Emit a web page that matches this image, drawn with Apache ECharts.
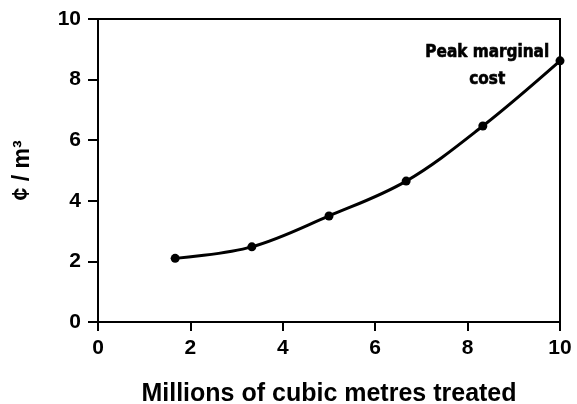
<!DOCTYPE html>
<html>
<head>
<meta charset="utf-8">
<script src="https://cdn.jsdelivr.net/npm/echarts@6/dist/echarts.min.js"></script>
<style>html,body{margin:0;padding:0;background:#fff}#c{width:577px;height:404px}</style>
</head>
<body>
<div id="c"></div>
<script>
const volumes = [1.67, 3.33, 5.0, 6.67, 8.33, 10.0];
const costs = [2.1, 2.48, 3.5, 4.65, 6.47, 8.62];
const xTicks = [0, 2, 4, 6, 8, 10];
const yTicks = [0, 2, 4, 6, 8, 10];
const xTitle = 'Millions of cubic metres treated';
const yTitle = '¢ / m³';
const peakNote = 'Peak marginal\ncost';

const chart = echarts.init(document.getElementById('c'), null, {renderer: 'canvas'});
const font = 'Liberation Sans, Arial, sans-serif';
chart.setOption({
  animation: false,
  backgroundColor: '#fff',
  grid: {left: 98, right: 17, top: 19, bottom: 82, containLabel: false, outerBoundsMode: 'none',
    show: true, borderColor: '#000', borderWidth: 2, backgroundColor: 'transparent'},
  xAxis: {
    type: 'value', min: 0, max: 10, interval: 2,
    name: xTitle, nameLocation: 'middle', nameGap: 60,
    nameTextStyle: {fontFamily: font, fontWeight: 'bold', fontSize: 25, color: '#000'},
    axisLine: {show: true, lineStyle: {color: '#000', width: 2}},
    axisTick: {show: true, inside: false, length: 9, lineStyle: {color: '#000', width: 2}},
    axisLabel: {margin: 16, fontFamily: font, fontWeight: 'bold', fontSize: 21, color: '#000',
      formatter: v => xTicks.includes(v) ? String(v) : ''},
    splitLine: {show: false}
  },
  yAxis: {
    type: 'value', min: 0, max: 10, interval: 2,
    name: yTitle, nameLocation: 'middle', nameGap: 64, nameRotate: 90,
    nameTextStyle: {fontFamily: font, fontWeight: 'bold', fontSize: 23, color: '#000'},
    axisLine: {show: true, lineStyle: {color: '#000', width: 2}},
    axisTick: {show: true, inside: false, length: 10, lineStyle: {color: '#000', width: 2}},
    axisLabel: {margin: 17, fontFamily: font, fontWeight: 'bold', fontSize: 21, color: '#000',
      formatter: v => yTicks.includes(v) ? String(v) : ''},
    splitLine: {show: false}
  },
  series: [{
    type: 'line',
    data: volumes.map((v, i) => [v, costs[i]]),
    smooth: 0.35,
    symbol: 'circle', symbolSize: 9,
    itemStyle: {color: '#000'},
    lineStyle: {color: '#000', width: 3},
    clip: false
  }],
  graphic: [{
    type: 'text', left: 425, top: 39, z: 10,
    style: {text: peakNote, fill: '#000', font: 'bold 17px "Liberation Sans Narrow", "DejaVu Sans Condensed", sans-serif',
      textAlign: 'center', lineHeight: 27, stroke: '#000', lineWidth: 0.6}
  }]
});
</script>
</body>
</html>
